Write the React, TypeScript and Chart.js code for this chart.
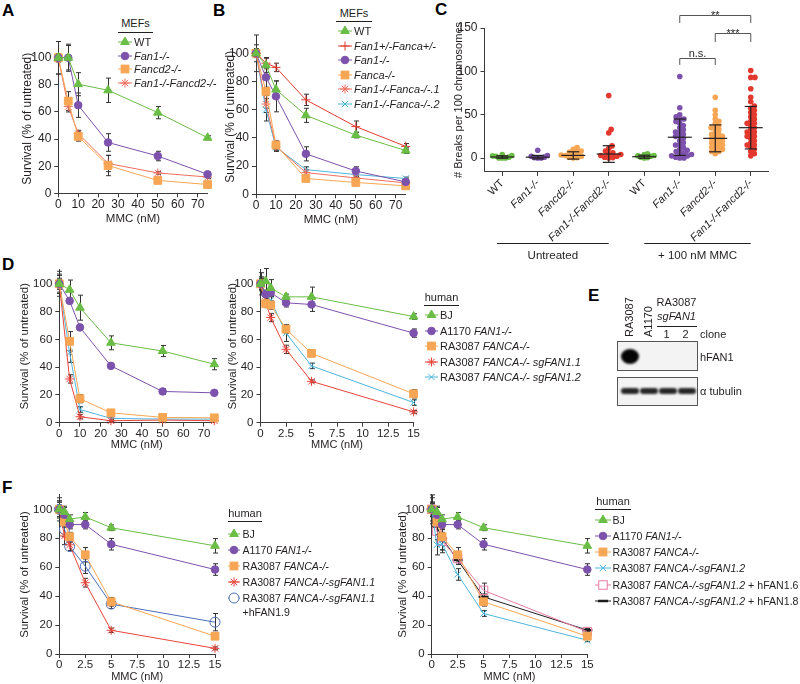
import React, { useEffect, useRef } from 'react';
import { Chart, registerables } from 'chart.js';
Chart.register(...registerables);

const FONT = '"Liberation Sans", Arial, Helvetica, sans-serif';
const INK = '#231f20';
const AXIS = '#3a3a3a';

const GREEN = '#6abd45';
const PURPLE = '#7d52ad';
const ORANGE = '#f7a654';
const RED = '#e8453b';
const SALMON = '#ef6f5f';
const CYAN = '#4cb5dd';
const BLUE = '#4a6fba';
const PINK = '#e77aa3';
const BLACK = '#1d1d1d';
const PLUSRED = '#e23a30';

// ---------- Panel A (MEFs) ----------
const aDoses = [0, 5, 10, 25, 50, 75];
const aWT = [100, 100, 80.5, 76, 59.5, 41];
const aWTErr = [12, 9, 8.5, 9, 4.5, 1.5];
const aFan1 = [100, 100, 65, 37.5, 27.5, 14];
const aFan1Err = [12, 10, 9, 6.5, 3.5, 1.5];
const aFancd2 = [100, 68, 42, 20.5, 9.5, 6.5];
const aFancd2Err = [3, 7, 3.5, 7.5, 1, 1];
const aFan1Fancd2 = [100, 64, 44, 22, 15, 12];
const aFan1Fancd2Err = [3, 4, 2.5, 6, 1, 1];

// ---------- Panel B (MEFs) ----------
const bDoses = [0, 5, 10, 25, 50, 75];
const bWT = [100, 91.5, 74.3, 56, 42, 31];
const bWTErr = [3, 5, 6, 5, 2, 2];
const bHet = [100, 93, 90, 67, 48, 34];
const bHetErr = [13, 4, 3, 4, 4, 2];
const bFan1 = [100, 83, 69.5, 28.7, 16.5, 8.8];
const bFan1Err = [6, 7, 11, 5, 3, 2];
const bFanca = [100, 73, 35, 11.2, 8.4, 6];
const bFancaErr = [3, 12, 3, 2, 1, 1];
const bDko1 = [100, 64, 34, 15.4, 11.6, 8.1];
const bDko1Err = [3, 6, 3, 2, 1, 1];
const bDko2 = [100, 60, 33.4, 17.5, 14, 11.2];
const bDko2Err = [3, 8, 3, 2, 2, 1];

// ---------- Panel C (chromosome breaks) ----------
const cLabels = ['WT', 'Fan1-/-', 'Fancd2-/-', 'Fan1-/-Fancd2-/-', 'WT', 'Fan1-/-', 'Fancd2-/-', 'Fan1-/-Fancd2-/-'];
const cColors = [GREEN, PURPLE, ORANGE, '#e2382e', GREEN, PURPLE, ORANGE, '#e2382e'];
const cUntWT = [0, 0, 0, 1, 2, 2.5, 3, 4];
const cUntFan1 = [0, 0, 0.5, 1, 2, 3, 9];
const cUntFancd2 = [0, 0.5, 1, 2, 3, 3.5, 5, 6, 7, 8, 10, 12];
const cUntDko = [0, 0.5, 1, 2, 3, 4, 5, 6, 8, 11, 14, 29, 33, 72];
const cTrtWT = [0, 0.5, 1, 2, 2.5, 3, 4, 5];
const cTrtFan1 = [0, 0, 1, 2.5, 2.5, 4, 5, 6, 7.5, 9, 10, 12.5, 15, 15, 17.5, 20, 22.5, 25, 25, 27.5, 30, 30, 32.5, 35, 37.5, 40, 42, 45, 45, 47.5, 50, 58, 94];
const cTrtFancd2 = [5, 7.5, 7.5, 10, 10, 12.5, 12.5, 15, 15, 17.5, 17.5, 20, 20, 22.5, 22.5, 25, 25, 27.5, 27.5, 30, 32.5, 35, 35, 37.5, 40, 42.5, 45, 50, 55, 70];
const cTrtDko = [2.5, 5, 7.5, 10, 12.5, 15, 15, 17.5, 20, 22.5, 25, 25, 27.5, 30, 30, 32.5, 35, 37.5, 40, 40, 42.5, 45, 47.5, 50, 52.5, 55, 57.5, 60, 65, 70, 80, 93, 93, 101];
const cGroupsValues = [cUntWT, cUntFan1, cUntFancd2, cUntDko, cTrtWT, cTrtFan1, cTrtFancd2, cTrtDko];
const cMeans = [1.2, 1, 3, 4.6, 1.5, 24, 22.7, 35];
const cSDs = [1.4, 2, 4.2, 9.6, 1.8, 21, 15.5, 24.5];
const cBrackets = [
  { from: 5, to: 7, at: 165, leg: 9.2, text: '**', dy: 3 },
  { from: 6, to: 7, at: 144.2, leg: 10.4, text: '***', dy: 3 },
  { from: 5, to: 6, at: 115.4, leg: 8, text: 'n.s.', dy: -2 },
];
const cGroupText = [
  { from: -0.15, to: 3, text: 'Untreated' },
  { from: 4, to: 7, text: '+ 100 nM MMC' },
];

// ---------- Panel D left (human, MMC 0–75 nM) ----------
const dDosesL = [0, 5, 10, 25, 50, 75];
const dBJL = [100, 95.7, 82.8, 57.5, 51.6, 42.1];
const dBJLErr = [9, 7, 9, 5, 4, 4];
const dA1170L = [100, 87.7, 68.6, 40.9, 22.5, 21.5];
const dA1170LErr = [7, 2, 2, 1, 2, 1.5];
const dFancaL = [100, 58.6, 17.3, 7.1, 3.8, 3.5];
const dFancaLErr = [4, 7, 3, 1, 1, 1];
const dSg11L = [100, 31.5, 4.3, 1.4, 1.9, 1.4];
const dSg11LErr = [3, 3, 1.5, 0.5, 0.5, 0.5];
const dSg12L = [100, 50.4, 9.5, 3.1, 2.6, 2.6];
const dSg12LErr = [6, 7, 2, 1, 1, 1];

// ---------- Panel D right (human, MMC 0–15 nM) ----------
const dDosesR = [0, 0.5, 1, 2.5, 5, 15];
const dBJR = [100, 102, 97, 90.6, 90.6, 76.4];
const dBJRErr = [5, 9, 6, 2, 7, 2];
const dA1170R = [100, 92.5, 93.6, 86.3, 85.1, 64.5];
const dA1170RErr = [8, 3, 3, 3, 5, 3];
const dFancaR = [100, 85.8, 84.7, 67.4, 49.9, 20.8];
const dFancaRErr = [3, 3, 3, 3, 1, 3];
const dSg11R = [100, 87, 75.7, 52.8, 29.8, 7.8];
const dSg11RErr = [4, 3, 3, 3, 1, 1];
const dSg12R = [100, 91.8, 88.2, 64.5, 40.9, 14.5];
const dSg12RErr = [4, 3, 3, 6, 2, 2];

// ---------- Panel F ----------
const fDoses = [0, 0.5, 1, 2.5, 5, 15];
const fBJ = [100, 98.2, 93.2, 94.8, 87.3, 74.8];
const fBJErr = [8, 4, 3, 3, 2, 5];
const fA1170 = [100, 96.3, 89.5, 89.5, 75.9, 58.4];
const fA1170Err = [5, 5, 3, 3, 4, 4];
const fFanca = [100, 91.3, 81.1, 68.6, 36.1, 12.3];
const fFancaErr = [3, 3, 3, 5, 3, 2];
const fSg11 = [100, 81.6, 75.5, 49.3, 16.4, 3.9];
const fSg11Err = [5, 6, 4, 3, 1.5, 1];
const fSg11Res19 = [100, 86.1, 74.3, 60.7, 34.5, 22];
const fSg11Res19Err = [6, 5, 3, 5, 3, 6];
const fSg12 = [100, 75.5, 76, 55, 28, 9.5];
const fSg12Err = [5, 7, 4, 4, 2, 1];
const fSg12Res16 = [100, 85, 78, 66, 44, 15.5];
const fSg12Res16Err = [4, 6, 8, 4, 5, 2];
const fSg12Res18 = [100, 88, 80, 65, 39.5, 16.5];
const fSg12Res18Err = [10, 9, 8, 3, 2, 1];

// ---------- helpers ----------
type Series = { color: string; marker: string; r: number; open?: boolean; bw?: number; values: number[]; errs: number[] };
type Box = { cl: number; ct: number; cr: number; cb: number; yW: number; xH: number; padT: number; padR: number };

function frame(b: Box) {
  const left = Math.round(b.cl - b.yW);
  const top = Math.round(b.ct - b.padT);
  const width = Math.round(b.cr + b.padR - left);
  const height = Math.round(b.cb + b.xH - top);
  return { left, top, width, height, yW: b.cl - left, padT: b.ct - top, padR: left + width - b.cr, xH: top + height - b.cb };
}

const errorBars = {
  id: 'errorBars',
  beforeDatasetsDraw(chart: any) {
    const ctx = chart.ctx;
    const ys = chart.scales.y;
    ctx.save();
    ctx.strokeStyle = '#333';
    ctx.lineWidth = 1;
    chart.data.datasets.forEach((ds: any, i: number) => {
      if (!ds.errs) return;
      const meta = chart.getDatasetMeta(i);
      meta.data.forEach((pt: any, j: number) => {
        const e = ds.errs[j];
        if (!e) return;
        const v = ds.data[j].y;
        const x = Math.round(pt.x) + 0.5;
        const t = ys.getPixelForValue(v + e);
        const b = ys.getPixelForValue(v - e);
        ctx.beginPath();
        ctx.moveTo(x, t); ctx.lineTo(x, b);
        ctx.moveTo(x - 2.5, t); ctx.lineTo(x + 2.5, t);
        ctx.moveTo(x - 2.5, b); ctx.lineTo(x + 2.5, b);
        ctx.stroke();
      });
    });
    ctx.restore();
  },
};

function linScale(axis: 'x' | 'y', min: number, max: number, step: number, fit: number, title: string, titleSize: number, tickSize: number) {
  return {
    type: 'linear',
    position: axis === 'x' ? 'bottom' : 'left',
    min, max,
    afterFit: (s: any) => { if (axis === 'x') s.height = fit; else s.width = fit; },
    ticks: {
      stepSize: step, includeBounds: false, autoSkip: false, maxRotation: 0, minRotation: 0,
      font: { family: FONT, size: tickSize }, color: INK, padding: axis === 'x' ? 0 : 3,
      callback: (v: any) => String(v),
    },
    grid: { drawOnChartArea: false, drawTicks: true, tickLength: 4, color: AXIS },
    border: { display: true, color: AXIS, width: 1 },
    title: { display: true, text: title, font: { family: FONT, size: titleSize }, color: INK, padding: 0 },
  };
}

function LinePanel({ box, doses, series, xMax, xStep, small }: { box: Box; doses: number[]; series: Series[]; xMax: number; xStep: number; small?: boolean }) {
  const ref = useRef<HTMLCanvasElement>(null);
  const f = frame(box);
  useEffect(() => {
    const chart = new Chart(ref.current as HTMLCanvasElement, {
      type: 'line',
      data: {
        datasets: series.map((s) => ({
          data: doses.map((d, i) => ({ x: d, y: s.values[i] })),
          errs: s.errs,
          borderColor: s.color,
          borderWidth: 1,
          pointStyle: s.marker,
          pointRadius: s.r,
          pointBackgroundColor: s.open ? 'rgba(255,255,255,0)' : s.color,
          pointBorderColor: s.color,
          pointBorderWidth: s.bw ?? 1,
          fill: false,
          tension: 0,
          clip: false,
        })) as any,
      },
      options: {
        responsive: false,
        animation: false,
        events: [],
        layout: { padding: { left: 0, top: f.padT, right: f.padR, bottom: 0 } },
        plugins: { legend: { display: false }, tooltip: { enabled: false } },
        scales: {
          x: linScale('x', 0, xMax, xStep, f.xH, 'MMC (nM)', small ? 11 : 11.5, small ? 11.5 : 12) as any,
          y: linScale('y', 0, 110, 20, f.yW, 'Survival (% of untreated)', small ? 11.5 : 12, small ? 11.5 : 12) as any,
        },
      },
      plugins: [errorBars],
    });
    return () => chart.destroy();
  }, []);
  return <canvas ref={ref} width={f.width} height={f.height} style={{ position: 'absolute', left: f.left, top: f.top, width: f.width, height: f.height }} />;
}

function swarm(values: number[], pxY: number, pxCat: number, d: number): number[] {
  const order = values.map((_, i) => i).sort((a, b) => values[a] - values[b]);
  const placed: { x: number; y: number }[] = [];
  const out = new Array(values.length).fill(0);
  for (const i of order) {
    const y = values[i] * pxY;
    const cands = [0];
    for (const p of placed) {
      const dy = Math.abs(p.y - y);
      if (dy < d) {
        const dx = Math.sqrt(d * d - dy * dy);
        cands.push(p.x + dx, p.x - dx);
      }
    }
    cands.sort((a, b) => Math.abs(a) - Math.abs(b));
    let chosen = 0;
    for (const c of cands) {
      if (placed.every((p) => (p.x - c) ** 2 + (p.y - y) ** 2 >= d * d - 0.01)) { chosen = c; break; }
    }
    placed.push({ x: chosen, y });
    out[i] = chosen / pxCat;
  }
  return out;
}

function BreaksPanel() {
  const ref = useRef<HTMLCanvasElement>(null);
  const f = frame({ cl: 484.5, ct: 28, cr: 768.5, cb: 171.9, yW: 32.8, xH: 95, padT: 28, padR: 10 });
  useEffect(() => {
    const extras = {
      id: 'cExtras',
      afterDatasetsDraw(chart: any) {
        const { ctx, chartArea } = chart;
        const x = chart.scales.x;
        const y = chart.scales.y;
        ctx.save();
        ctx.strokeStyle = INK;
        ctx.lineWidth = 1.2;
        const seg = (x1: number, y1: number, x2: number, y2: number) => { ctx.beginPath(); ctx.moveTo(x1, y1); ctx.lineTo(x2, y2); ctx.stroke(); };
        cMeans.forEach((m, i) => {
          const px = x.getPixelForValue(i);
          const pm = y.getPixelForValue(m);
          const pt = y.getPixelForValue(m + cSDs[i]);
          const pb = y.getPixelForValue(m - cSDs[i]);
          seg(px - 12, pm, px + 12, pm);
          seg(px, pt, px, pb);
          seg(px - 6, pt, px + 6, pt);
          seg(px - 6, pb, px + 6, pb);
        });
        ctx.strokeStyle = '#555';
        ctx.lineWidth = 1;
        ctx.fillStyle = INK;
        ctx.font = `11px ${FONT}`;
        ctx.textAlign = 'center';
        ctx.textBaseline = 'alphabetic';
        cBrackets.forEach((b) => {
          const x1 = x.getPixelForValue(b.from);
          const x2 = x.getPixelForValue(b.to);
          const yy = Math.round(y.getPixelForValue(b.at)) + 0.5;
          const yl = y.getPixelForValue(b.at - b.leg);
          ctx.beginPath();
          ctx.moveTo(x1, yl); ctx.lineTo(x1, yy); ctx.lineTo(x2, yy); ctx.lineTo(x2, yl);
          ctx.stroke();
          ctx.fillText(b.text, (x1 + x2) / 2, yy + b.dy);
        });
        ctx.strokeStyle = INK;
        cGroupText.forEach((g) => {
          const x1 = x.getPixelForValue(g.from);
          const x2 = x.getPixelForValue(g.to);
          const ly = Math.round(chartArea.bottom + 71) + 0.5;
          seg(x1, ly, x2, ly);
          ctx.textBaseline = 'middle';
          ctx.font = `11.5px ${FONT}`;
          ctx.fillText(g.text, (x1 + x2) / 2, ly + 12);
        });
        ctx.restore();
      },
    };
    const datasets = cGroupsValues.map((vals, gi) => {
      const offs = swarm(vals, 0.8667, 35.5, gi === 0 || gi === 1 || gi === 4 ? 3.4 : 4.2);
      return {
        type: 'scatter',
        data: vals.map((v, k) => ({ x: gi + offs[k], y: v })),
        pointRadius: 2.8,
        pointBorderWidth: 0,
        pointBackgroundColor: cColors[gi],
        pointBorderColor: cColors[gi],
        showLine: false,
        clip: false,
      };
    });
    const chart = new Chart(ref.current as HTMLCanvasElement, {
      type: 'scatter',
      data: { datasets: datasets as any },
      options: {
        responsive: false,
        animation: false,
        events: [],
        layout: { padding: { left: 0, top: f.padT, right: f.padR, bottom: 0 } },
        plugins: { legend: { display: false }, tooltip: { enabled: false } },
        scales: {
          x: {
            type: 'linear', min: -0.5, max: 7.5, position: 'bottom',
            afterFit: (s: any) => { s.height = f.xH; },
            afterBuildTicks: (s: any) => { s.ticks = cLabels.map((_, i) => ({ value: i })); },
            ticks: {
              autoSkip: false, minRotation: 45, maxRotation: 45, padding: 1, color: INK,
              font: (c: any) => ({ family: FONT, size: 11, style: cLabels[c.index] === 'WT' ? 'normal' : 'italic' }),
              callback: (v: any) => cLabels[Math.round(v)],
            },
            grid: { drawOnChartArea: false, drawTicks: true, tickLength: 4, color: AXIS },
            border: { display: true, color: AXIS, width: 1 },
          },
          y: {
            type: 'linear', min: -16, max: 150, position: 'left',
            afterFit: (s: any) => { s.width = f.yW; },
            ticks: { stepSize: 50, includeBounds: false, font: { family: FONT, size: 12 }, color: INK, padding: 3, callback: (v: any) => String(v) },
            grid: { drawOnChartArea: false, drawTicks: true, tickLength: 4, color: AXIS },
            border: { display: true, color: AXIS, width: 1 },
            title: { display: true, text: '# Breaks per 100 chromosomes', font: { family: FONT, size: 11 }, color: INK, padding: 0 },
          },
        } as any,
      },
      plugins: [extras],
    });
    return () => chart.destroy();
  }, []);
  return <canvas ref={ref} width={f.width} height={f.height} style={{ position: 'absolute', left: f.left, top: f.top, width: f.width, height: f.height }} />;
}

// ---------- legend (HTML text with mixed italics) ----------
type Part = { t: string; i?: boolean };
type LegItem = { y: number; color: string; marker: string; r: number; open?: boolean; bw?: number; parts: Part[]; line2?: Part[] };

function MarkerSvg({ left, y, w, color, marker, r, open, bw }: { left: number; y: number; w: number; color: string; marker: string; r: number; open?: boolean; bw?: number }) {
  const h = 16, cy = 8, cx = w / 2;
  const fill = open ? 'white' : color;
  const sw = bw ?? 1;
  let shape: any = null;
  const c45 = r * 0.7071;
  if (marker === 'triangle') shape = <polygon points={`${cx},${cy - r} ${cx + r * 0.866},${cy + r / 2} ${cx - r * 0.866},${cy + r / 2}`} fill={fill} stroke={color} strokeWidth={sw} />;
  else if (marker === 'circle') shape = <circle cx={cx} cy={cy} r={r} fill={fill} stroke={color} strokeWidth={sw} />;
  else if (marker === 'rect') shape = <rect x={cx - c45} y={cy - c45} width={2 * c45} height={2 * c45} fill={fill} stroke={color} strokeWidth={sw} />;
  else if (marker === 'cross') shape = <path d={`M${cx},${cy - r}V${cy + r}M${cx - r},${cy}H${cx + r}`} stroke={color} strokeWidth={sw} />;
  else if (marker === 'crossRot') shape = <path d={`M${cx - c45},${cy - c45}L${cx + c45},${cy + c45}M${cx - c45},${cy + c45}L${cx + c45},${cy - c45}`} stroke={color} strokeWidth={sw} />;
  else if (marker === 'star') shape = <path d={`M${cx},${cy - r}V${cy + r}M${cx - r},${cy}H${cx + r}M${cx - c45},${cy - c45}L${cx + c45},${cy + c45}M${cx - c45},${cy + c45}L${cx + c45},${cy - c45}`} stroke={color} strokeWidth={sw} />;
  else if (marker === 'line') shape = <path d={`M${cx - r},${cy}H${cx + r}`} stroke={color} strokeWidth={sw} />;
  return (
    <svg width={w} height={h} style={{ position: 'absolute', left, top: y - cy, overflow: 'visible' }}>
      <line x1={0} y1={cy} x2={w} y2={cy} stroke={color} strokeWidth={1} />
      {shape}
    </svg>
  );
}

function Parts({ parts }: { parts: Part[] }) {
  return <>{parts.map((p, k) => <span key={k} style={{ fontStyle: p.i ? 'italic' : 'normal' }}>{p.t}</span>)}</>;
}

function Legend({ title, titleY, ulX0, ulX1, ulY, mx0, mx1, tx, items, size }: { title: string; titleY: number; ulX0: number; ulX1: number; ulY: number; mx0: number; mx1: number; tx: number; items: LegItem[]; size?: number }) {
  const txt = { position: 'absolute' as const, fontFamily: FONT, fontSize: size ?? 11, lineHeight: '14px', color: INK, whiteSpace: 'nowrap' as const };
  return (
    <>
      <div style={{ ...txt, fontSize: 11, left: ulX0 - 10, width: ulX1 - ulX0 + 20, textAlign: 'center', top: titleY - 7 }}>{title}</div>
      <div style={{ position: 'absolute', left: ulX0, top: ulY, width: ulX1 - ulX0, height: 0, borderTop: `1px solid ${INK}` }} />
      {items.map((it, k) => (
        <React.Fragment key={k}>
          <MarkerSvg left={mx0} y={it.y} w={mx1 - mx0} color={it.color} marker={it.marker} r={it.r} open={it.open} bw={it.bw} />
          <div style={{ ...txt, left: tx, top: it.y - 7 }}><Parts parts={it.parts} /></div>
          {it.line2 ? <div style={{ ...txt, left: tx, top: it.y - 7 + 14 }}><Parts parts={it.line2} /></div> : null}
        </React.Fragment>
      ))}
    </>
  );
}

function Letter({ ch, x, y }: { ch: string; x: number; y: number }) {
  return <div style={{ position: 'absolute', left: x, top: y - 3, fontFamily: FONT, fontWeight: 'bold', fontSize: 17, lineHeight: '17px', color: '#000' }}>{ch}</div>;
}

function Txt({ x, y, children, italic, align, size }: { x: number; y: number; children: any; italic?: boolean; align?: 'left' | 'center'; size?: number }) {
  const s = size ?? 11;
  const w = 80;
  return (
    <div style={{ position: 'absolute', left: align === 'center' ? x - w / 2 : x, width: align === 'center' ? w : undefined, top: y - 7, textAlign: align === 'center' ? 'center' : 'left', fontFamily: FONT, fontSize: s, lineHeight: '14px', color: INK, fontStyle: italic ? 'italic' : 'normal', whiteSpace: 'nowrap' }}>{children}</div>
  );
}

function VText({ x, yBottom, text }: { x: number; yBottom: number; text: string }) {
  return (
    <div style={{ position: 'absolute', left: x, top: yBottom - 7, transformOrigin: '0 50%', transform: 'rotate(-90deg)', fontFamily: FONT, fontSize: 11, lineHeight: '14px', color: INK, whiteSpace: 'nowrap' }}>{text}</div>
  );
}

function Blot() {
  const laneX = [628.5, 647.5, 666.5, 685.5];
  return (
    <>
      <VText x={628.5} yBottom={337} text="RA3087" />
      <VText x={647.5} yBottom={337} text="A1170" />
      <Txt x={676.5} y={302} align="center">RA3087</Txt>
      <Txt x={676.5} y={316} align="center" italic>sgFAN1</Txt>
      <div style={{ position: 'absolute', left: 657, top: 326, width: 40, borderTop: `1px solid ${INK}` }} />
      <Txt x={666.5} y={334} align="center">1</Txt>
      <Txt x={685.5} y={334} align="center">2</Txt>
      <Txt x={700} y={334}>clone</Txt>
      <div style={{ position: 'absolute', left: 617, top: 341, width: 79, height: 28, background: '#f3f3f3', border: '1px solid #555', overflow: 'hidden' }}>
        <div style={{ position: 'absolute', left: 3, top: 7, width: 18, height: 15, borderRadius: '50%', background: '#050505', filter: 'blur(1.2px)' }} />
      </div>
      <Txt x={700} y={357}>hFAN1</Txt>
      <div style={{ position: 'absolute', left: 617, top: 377, width: 79, height: 27, background: '#f3f3f3', border: '1px solid #555', overflow: 'hidden' }}>
        {laneX.map((lx, k) => (
          <div key={k} style={{ position: 'absolute', left: lx - 617 - 9, top: 10, width: 18, height: 6, borderRadius: 3, background: '#262626', filter: 'blur(0.8px)' }} />
        ))}
      </div>
      <Txt x={700} y={391}>α tubulin</Txt>
    </>
  );
}

export default function App() {
  const aSeries: Series[] = [
    { color: GREEN, marker: 'triangle', r: 5, values: aWT, errs: aWTErr },
    { color: PURPLE, marker: 'circle', r: 3.8, values: aFan1, errs: aFan1Err },
    { color: ORANGE, marker: 'rect', r: 5.5, values: aFancd2, errs: aFancd2Err },
    { color: SALMON, marker: 'star', r: 4.5, values: aFan1Fancd2, errs: aFan1Fancd2Err },
  ];
  const bSeries: Series[] = [
    { color: GREEN, marker: 'triangle', r: 5, values: bWT, errs: bWTErr },
    { color: PLUSRED, marker: 'cross', r: 4.5, values: bHet, errs: bHetErr },
    { color: PURPLE, marker: 'circle', r: 3.8, values: bFan1, errs: bFan1Err },
    { color: ORANGE, marker: 'rect', r: 5.5, values: bFanca, errs: bFancaErr },
    { color: SALMON, marker: 'star', r: 4.5, values: bDko1, errs: bDko1Err },
    { color: CYAN, marker: 'crossRot', r: 4.5, values: bDko2, errs: bDko2Err },
  ];
  const dLSeries: Series[] = [
    { color: GREEN, marker: 'triangle', r: 5, values: dBJL, errs: dBJLErr },
    { color: PURPLE, marker: 'circle', r: 3.8, values: dA1170L, errs: dA1170LErr },
    { color: ORANGE, marker: 'rect', r: 5.5, values: dFancaL, errs: dFancaLErr },
    { color: RED, marker: 'star', r: 4.5, values: dSg11L, errs: dSg11LErr },
    { color: CYAN, marker: 'crossRot', r: 4.5, values: dSg12L, errs: dSg12LErr },
  ];
  const dRSeries: Series[] = [
    { color: GREEN, marker: 'triangle', r: 5, values: dBJR, errs: dBJRErr },
    { color: PURPLE, marker: 'circle', r: 3.8, values: dA1170R, errs: dA1170RErr },
    { color: ORANGE, marker: 'rect', r: 5.5, values: dFancaR, errs: dFancaRErr },
    { color: RED, marker: 'star', r: 4.5, values: dSg11R, errs: dSg11RErr },
    { color: CYAN, marker: 'crossRot', r: 4.5, values: dSg12R, errs: dSg12RErr },
  ];
  const fLSeries: Series[] = [
    { color: GREEN, marker: 'triangle', r: 5, values: fBJ, errs: fBJErr },
    { color: PURPLE, marker: 'circle', r: 3.8, values: fA1170, errs: fA1170Err },
    { color: ORANGE, marker: 'rect', r: 5.5, values: fFanca, errs: fFancaErr },
    { color: RED, marker: 'star', r: 4.5, values: fSg11, errs: fSg11Err },
    { color: BLUE, marker: 'circle', r: 5, open: true, values: fSg11Res19, errs: fSg11Res19Err },
  ];
  const fRSeries: Series[] = [
    { color: GREEN, marker: 'triangle', r: 5, values: fBJ, errs: fBJErr },
    { color: PURPLE, marker: 'circle', r: 3.8, values: fA1170, errs: fA1170Err },
    { color: ORANGE, marker: 'rect', r: 5.5, values: fFanca, errs: fFancaErr },
    { color: CYAN, marker: 'crossRot', r: 4.5, values: fSg12, errs: fSg12Err },
    { color: PINK, marker: 'rect', r: 6, open: true, values: fSg12Res16, errs: fSg12Res16Err },
    { color: BLACK, marker: 'line', r: 5, bw: 2.5, values: fSg12Res18, errs: fSg12Res18Err },
  ];

  const humanItems = (ys: number[]): LegItem[] => [
    { y: ys[0], color: GREEN, marker: 'triangle', r: 5, parts: [{ t: 'BJ' }] },
    { y: ys[1], color: PURPLE, marker: 'circle', r: 3.8, parts: [{ t: 'A1170 ' }, { t: 'FAN1-/-', i: true }] },
    { y: ys[2], color: ORANGE, marker: 'rect', r: 5.5, parts: [{ t: 'RA3087 ' }, { t: 'FANCA-/-', i: true }] },
  ];

  return (
    <div style={{ position: 'absolute', left: 0, top: 0, width: 800, height: 684, background: '#fff', overflow: 'hidden' }}>
      <Letter ch="A" x={2} y={5} />
      <Letter ch="B" x={213} y={5} />
      <Letter ch="C" x={435} y={4} />
      <Letter ch="D" x={2} y={259} />
      <Letter ch="E" x={588} y={290} />
      <Letter ch="F" x={2} y={482} />

      <LinePanel box={{ cl: 58.3, ct: 42.3, cr: 207.6, cb: 193.3, yW: 38.5, xH: 32.4, padT: 8, padR: 8 }} doses={aDoses} series={aSeries} xMax={75} xStep={10} />
      <Legend title="MEFs" titleY={23} ulX0={118} ulX1={153} ulY={32} mx0={118} mx1={132} tx={134}
        items={[
          { y: 42, color: GREEN, marker: 'triangle', r: 5, parts: [{ t: 'WT' }] },
          { y: 55.5, color: PURPLE, marker: 'circle', r: 3.8, parts: [{ t: 'Fan1-/-', i: true }] },
          { y: 69, color: ORANGE, marker: 'rect', r: 5.5, parts: [{ t: 'Fancd2-/-', i: true }] },
          { y: 83, color: SALMON, marker: 'star', r: 4.5, parts: [{ t: 'Fan1-/-Fancd2-/-', i: true }] },
        ]} />

      <LinePanel box={{ cl: 256, ct: 37.3, cr: 405.7, cb: 194.3, yW: 33.2, xH: 32.4, padT: 8, padR: 8 }} doses={bDoses} series={bSeries} xMax={75} xStep={10} />
      <Legend title="MEFs" titleY={13} ulX0={336} ulX1={372} ulY={21} mx0={338} mx1={352} tx={354}
        items={[
          { y: 31, color: GREEN, marker: 'triangle', r: 5, parts: [{ t: 'WT' }] },
          { y: 45.5, color: PLUSRED, marker: 'cross', r: 4.5, parts: [{ t: 'Fan1+/-Fanca+/-', i: true }] },
          { y: 60, color: PURPLE, marker: 'circle', r: 3.8, parts: [{ t: 'Fan1-/-', i: true }] },
          { y: 74.5, color: ORANGE, marker: 'rect', r: 5.5, parts: [{ t: 'Fanca-/-', i: true }] },
          { y: 89, color: SALMON, marker: 'star', r: 4.5, parts: [{ t: 'Fan1-/-Fanca-/-.1', i: true }] },
          { y: 104, color: CYAN, marker: 'crossRot', r: 4.5, parts: [{ t: 'Fan1-/-Fanca-/-.2', i: true }] },
        ]} />

      <BreaksPanel />

      <LinePanel small box={{ cl: 59.3, ct: 267.6, cr: 214.3, cb: 422.7, yW: 41.5, xH: 28.8, padT: 8, padR: 8 }} doses={dDosesL} series={dLSeries} xMax={75} xStep={10} />
      <LinePanel small box={{ cl: 260.5, ct: 267.6, cr: 413.6, cb: 422.7, yW: 34.7, xH: 28.8, padT: 8, padR: 8 }} doses={dDosesR} series={dRSeries} xMax={15} xStep={2.5} />
      <Legend title="human" titleY={297} ulX0={424} ulX1={459} ulY={305} mx0={425} mx1={438} tx={440}
        items={[
          ...humanItems([315, 330.5, 346]),
          { y: 361.5, color: RED, marker: 'star', r: 4.5, parts: [{ t: 'RA3087 ' }, { t: 'FANCA-/- sgFAN1.1', i: true }] },
          { y: 377, color: CYAN, marker: 'crossRot', r: 4.5, parts: [{ t: 'RA3087 ' }, { t: 'FANCA-/- sgFAN1.2', i: true }] },
        ]} />

      <Blot />

      <LinePanel small box={{ cl: 59.3, ct: 492.6, cr: 215, cb: 654, yW: 41.5, xH: 30.4, padT: 8, padR: 8 }} doses={fDoses} series={fLSeries} xMax={15} xStep={2.5} />
      <Legend size={10.6} title="human" titleY={513} ulX0={228} ulX1={262} ulY={521} mx0={228} mx1={240} tx={242.5}
        items={[
          ...humanItems([533.5, 549.5, 565.5]),
          { y: 582, color: RED, marker: 'star', r: 4.5, parts: [{ t: 'RA3087 ' }, { t: 'FANCA-/-sgFAN1.1', i: true }] },
          { y: 598, color: BLUE, marker: 'circle', r: 5, open: true, parts: [{ t: 'RA3087 ' }, { t: 'FANCA-/-sgFAN1.1', i: true }], line2: [{ t: '+hFAN1.9' }] },
        ]} />

      <LinePanel small box={{ cl: 431.7, ct: 492.6, cr: 587.3, cb: 654, yW: 35.9, xH: 30.4, padT: 8, padR: 8 }} doses={fDoses} series={fRSeries} xMax={15} xStep={2.5} />
      <Legend size={10.6} title="human" titleY={501} ulX0={595} ulX1={631} ulY={509} mx0={595} mx1={611} tx={612.5}
        items={[
          ...humanItems([519.5, 535.5, 551.5]),
          { y: 568, color: CYAN, marker: 'crossRot', r: 4.5, parts: [{ t: 'RA3087 ' }, { t: 'FANCA-/-sgFAN1.2', i: true }] },
          { y: 584.5, color: PINK, marker: 'rect', r: 6, open: true, parts: [{ t: 'RA3087 ' }, { t: 'FANCA-/-sgFAN1.2', i: true }, { t: ' + hFAN1.6' }] },
          { y: 600.5, color: BLACK, marker: 'line', r: 5, bw: 2.5, parts: [{ t: 'RA3087 ' }, { t: 'FANCA-/-sgFAN1.2', i: true }, { t: ' + hFAN1.8' }] },
        ]} />
    </div>
  );
}
